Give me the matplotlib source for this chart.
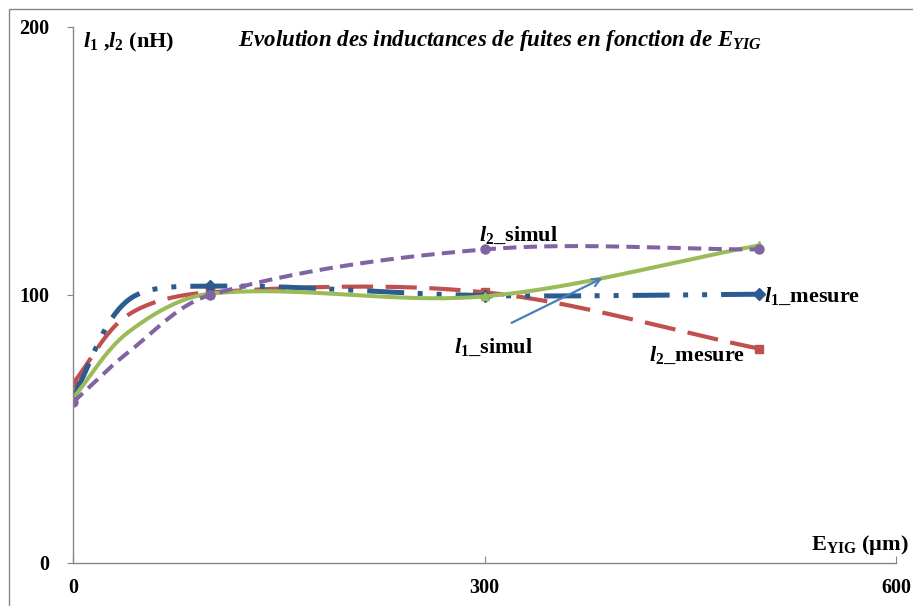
import numpy as np
import matplotlib
matplotlib.use("Agg")
import matplotlib.pyplot as plt
from matplotlib.patches import Rectangle

plt.rcParams['font.family'] = ['Liberation Serif', 'DejaVu Serif']
plt.rcParams['font.weight'] = 'bold'
plt.rcParams['mathtext.fontset'] = 'custom'
plt.rcParams['mathtext.rm'] = 'Liberation Serif:bold'
plt.rcParams['mathtext.bf'] = 'Liberation Serif:bold'
plt.rcParams['mathtext.it'] = 'Liberation Serif:italic:bold'

# E_YIG thickness (um) and leakage inductances (nH)
e_yig = [0, 40, 100, 300, 500]
l1_mesure = [62, 98, 103.3, 99.8, 100.3]
l2_mesure = [67, 92.5, 101, 101, 80]
l1_simul = [61.5, 86, 100.5, 99.5, 118.5]
l2_simul = [60, 78.5, 100, 117, 117]
marked = [0, 2, 3, 4]

xticks = [0, 300, 600]
yticks = [0, 100, 200]


def excel_smooth(ax, x, y, n=40):
    # bezier smoothing like the spreadsheet "smoothed line", done in pixel space
    pts = ax.transData.transform(np.column_stack([x, y]))
    m = len(pts)
    out = [pts[:1]]
    t = np.linspace(0, 1, n)[1:, None]
    for i in range(m - 1):
        p0 = pts[max(i - 1, 0)]
        p1 = pts[i]
        p2 = pts[i + 1]
        p3 = pts[min(i + 2, m - 1)]
        d01 = np.hypot(*(p1 - p0))
        d12 = np.hypot(*(p2 - p1))
        d23 = np.hypot(*(p3 - p2))
        c1 = p1 + d12 / (3 * (d01 + d12)) * (p2 - p0)
        c2 = p2 - d12 / (3 * (d12 + d23)) * (p3 - p1)
        seg = (1 - t) ** 3 * p1 + 3 * (1 - t) ** 2 * t * c1 + 3 * (1 - t) * t ** 2 * c2 + t ** 3 * p2
        out.append(seg)
    xy = ax.transData.inverted().transform(np.vstack(out))
    return xy[:, 0], xy[:, 1]


fig = plt.figure(figsize=(9.13, 6.06), dpi=100)
ax = fig.add_axes([73 / 913, 43 / 606, 823 / 913, 536 / 606])
ax.set_xlim(0, 600)
ax.set_ylim(0, 200)

# outer chart border
fig.patches.append(Rectangle((9 / 913, -0.1), 1.2, (597 / 606) + 0.1, transform=fig.transFigure,
                             fill=False, edgecolor='#868686', linewidth=1.0))

series = [
    (l2_mesure, '#C0504D', (7.5, 3), 's', 6, 3.0),
    (l1_mesure, '#2C5C8F', (7.4, 2.7, 1, 2.8, 1, 2.8), 'D', 6.5, 3.6),
    (l1_simul, '#9BBB59', None, '^', 6, 2.9),
    (l2_simul, '#8064A2', (3.3, 1.8), 'o', 6.5, 2.9),
]
for vals, col, dash, mk, ms, lw in series:
    sx, sy = excel_smooth(ax, e_yig, vals)
    line, = ax.plot(sx, sy, color=col, lw=lw, solid_capstyle='butt', dash_capstyle='butt')
    if dash is not None:
        line.set_dashes(dash)
    ax.plot([e_yig[i] for i in marked], [vals[i] for i in marked], ls='none',
            marker=mk, ms=ms, color=col, mec=col)

for s in ['top', 'right']:
    ax.spines[s].set_visible(False)
for s in ['left', 'bottom']:
    ax.spines[s].set_color('#868686')
    ax.spines[s].set_linewidth(1.0)

ax.set_xticks(xticks)
ax.set_yticks(yticks)
ax.tick_params(axis='x', direction='in', length=5, color='#868686', pad=11, labelsize=14.5)
ax.tick_params(axis='y', direction='out', length=4, color='#868686', pad=13, labelsize=14.5)
for lab in ax.get_xticklabels() + ax.get_yticklabels():
    lab.set_fontweight('bold')

ax.text(311.5, 195, r'Evolution des inductances de fuites en fonction de $E_{YIG}$',
        ha='center', va='center', fontsize=16.5, style='italic', fontweight='bold')
ax.text(7.3, 194.3, r'$l_1$ ,$l_2$ (nH)', ha='left', va='center', fontsize=16)
ax.text(538, 6.7, r'$\mathrm{E_{YIG}}$ (µm)', ha='left', va='center', fontsize=16)

lab_kw = dict(ha='left', va='center', fontsize=16)
ax.text(296, 122.4, r'$l_2$_simul', **lab_kw)
ax.text(504, 99.3, r'$l_1$_mesure', **lab_kw)
ax.text(278, 80.5, r'$l_1$_simul', **lab_kw)
ax.text(420, 77.3, r'$l_2$_mesure', **lab_kw)

ax.annotate('', xy=(386, 106.3), xytext=(319.7, 89.6),
            arrowprops=dict(arrowstyle='->', color='#4A7EBB', lw=1.6,
                            mutation_scale=14, shrinkA=0, shrinkB=0))

fig.savefig('out.png', dpi=100)
